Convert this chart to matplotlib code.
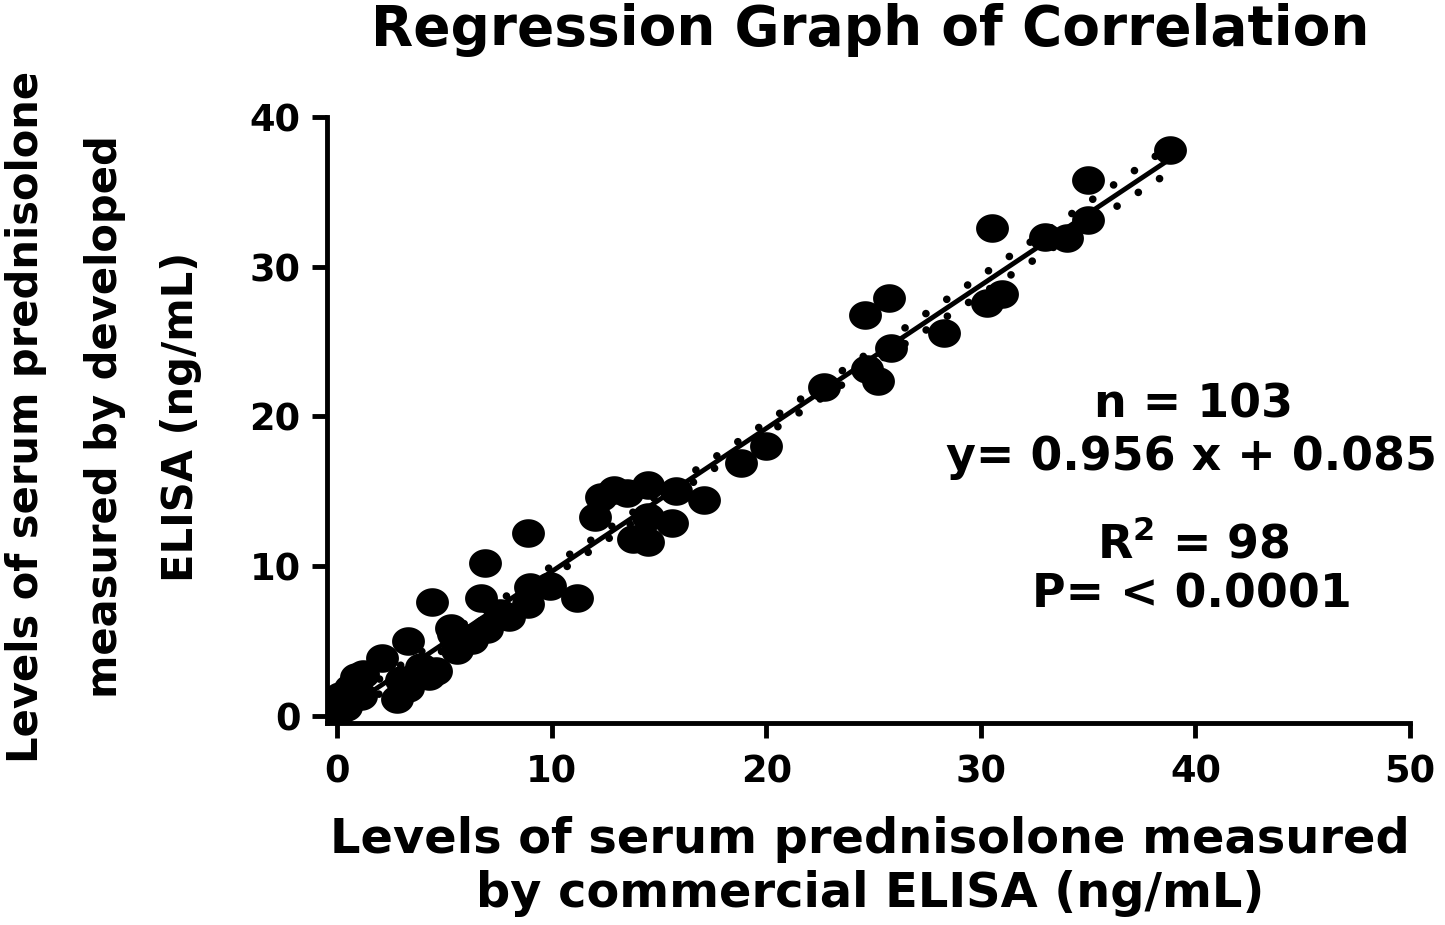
import numpy as np
import matplotlib.pyplot as plt

plt.rcParams['font.family'] = ['DejaVu Sans']
plt.rcParams['font.weight'] = 'bold'
plt.rcParams['mathtext.fontset'] = 'dejavusans'

# commercial ELISA (x) vs developed ELISA (y), ng/mL
commercial = [0.0, 0.15, 0.6, 0.9, 1.1, 1.2, 2.1, 2.8, 3.3, 3.0, 3.3, 3.9, 4.3,
              4.4, 5.4, 5.3, 5.6, 6.3, 6.7, 6.9, 7.0, 8.0, 8.9, 9.0, 8.9, 9.9,
              11.2, 12.0, 12.3, 12.9, 13.5, 14.5, 14.5, 15.8, 15.6, 13.8, 14.5,
              17.1, 18.8, 20.0, 22.7, 24.7, 25.2, 24.6, 25.7, 25.8, 28.3, 30.3,
              31.0, 30.5, 33.0, 34.0, 35.0, 35.0, 38.8, 4.6, 6.0, 7.6, 0.4]
developed = [0.1, 1.3, 1.9, 2.6, 1.3, 2.8, 3.9, 1.1, 1.9, 2.4, 5.0, 3.3, 2.7,
             7.6, 5.5, 5.9, 4.4, 5.1, 7.9, 10.2, 5.8, 6.6, 7.5, 8.6, 12.2, 8.7,
             7.9, 13.3, 14.6, 15.1, 14.9, 15.4, 13.3, 15.0, 12.9, 11.8, 11.6,
             14.4, 16.9, 18.0, 22.0, 23.2, 22.4, 26.8, 27.9, 24.6, 25.6, 27.6,
             28.2, 32.6, 32.0, 31.9, 33.1, 35.8, 37.8, 3.0, 5.2, 6.9, 0.6]

n_total = 103
slope = 0.956
intercept = 0.085

x = np.array(commercial)
y = np.array(developed)

# 95% confidence band of the fitted line (n = 103 samples)
xs = np.linspace(x.min(), x.max(), 200)
fit = slope * xs + intercept
resid = y - (slope * x + intercept)
s = np.sqrt(np.sum(resid**2) / (len(x) - 2))
se = s * np.sqrt(1 / n_total + (xs - x.mean())**2 / (n_total * x.var()))
band = 1.98 * se

# ellipse marker, wider than tall
t = np.linspace(0, 2 * np.pi, 60)
ellipse = np.column_stack([np.cos(t), 0.87 * np.sin(t)])

W, H = 1445, 925
fig = plt.figure(figsize=(W / 100, H / 100), dpi=100)
ax = fig.add_axes([327 / W, 1 - 723 / H, 1083 / W, 606 / H])

ax.scatter(x, y, marker=ellipse, s=560, color='black', linewidths=0, zorder=3)
ax.plot(xs, fit, color='black', lw=3.5, zorder=4)
for sign in (1, -1):
    ax.plot(xs, fit + sign * band, color='black', lw=5.5,
            dashes=(0.01, 3.3), dash_capstyle='round', zorder=4)

ax.set_xlim(-0.47, 50)
ax.set_ylim(-0.47, 40)
ax.set_xticks([0, 10, 20, 30, 40, 50])
ax.set_yticks([0, 10, 20, 30, 40])
for side in ('top', 'right'):
    ax.spines[side].set_visible(False)
for side in ('left', 'bottom'):
    ax.spines[side].set_linewidth(3.5)
ax.tick_params(width=3.5, length=11, labelsize=26.5)
ax.tick_params(axis='x', pad=11)
ax.tick_params(axis='y', pad=8)
for lab in ax.get_xticklabels() + ax.get_yticklabels():
    lab.set_fontweight('bold')

fig.text(870 / W, 1 - 45 / H, 'Regression Graph of Correlation',
         fontsize=39.5, fontweight='bold', ha='center', va='baseline')

fig.text(870 / W, 1 - 853 / H, 'Levels of serum prednisolone measured',
         fontsize=34.5, fontweight='bold', ha='center', va='baseline')
fig.text(870 / W, 1 - 907 / H, 'by commercial ELISA (ng/mL)',
         fontsize=34.5, fontweight='bold', ha='center', va='baseline')

ylabel_lines = ['Levels of serum prednisolone', 'measured by developed', 'ELISA (ng/mL)']
for xpix, line in zip([26, 105, 181], ylabel_lines):
    fig.text(xpix / W, 1 - 417 / H, line, fontsize=30, fontweight='bold',
             rotation=90, ha='center', va='center')

fig.text(1193 / W, 1 - 417 / H, 'n = 103', fontsize=33, fontweight='bold',
         ha='center', va='baseline')
fig.text(1192 / W, 1 - 470 / H, 'y= 0.956 x + 0.085', fontsize=33, fontweight='bold',
         ha='center', va='baseline')
fig.text(1193 / W, 1 - 558 / H, r'R$^{\mathbf{2}}$ = 98', fontsize=33, fontweight='bold',
         ha='center', va='baseline')
fig.text(1192 / W, 1 - 607 / H, 'P= < 0.0001', fontsize=33, fontweight='bold',
         ha='center', va='baseline')

fig.savefig('out.png', dpi=100)
